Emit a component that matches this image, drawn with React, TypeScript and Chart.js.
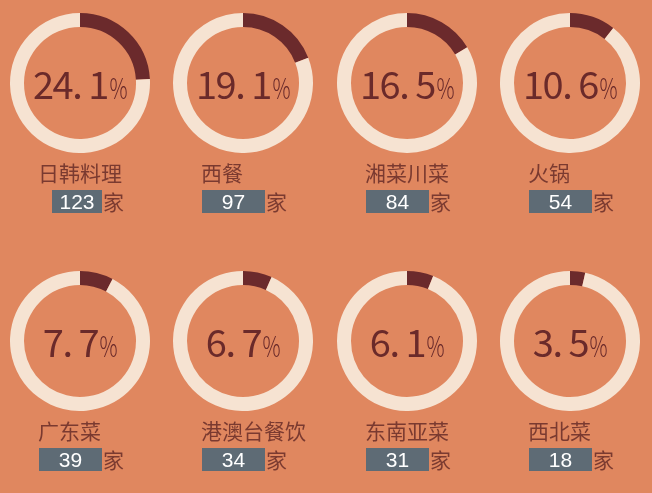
import { useEffect, useRef } from "react";
import { Chart, DoughnutController, ArcElement } from "chart.js";

Chart.register(DoughnutController, ArcElement);

// data
const categories = ["日韩料理", "西餐", "湘菜川菜", "火锅", "广东菜", "港澳台餐饮", "东南亚菜", "西北菜"];
const shares = [24.1, 19.1, 16.5, 10.6, 7.7, 6.7, 6.1, 3.5];
const counts = [123, 97, 84, 54, 39, 34, 31, 18];
const unit = "家";

// colours
const BG = "#E0875F";
const RING = "#F6E3D2";
const ARC = "#6B2A2C";
const NUM = "#6A2A2A";
const LABEL = "#7A3A30";
const BOX = "#5E6B75";

// layout
const colX = [80, 243, 407, 570];
const rowY = [83, 341];
const R = 70;
const CJK = '"Noto Sans CJK SC", "Noto Sans", sans-serif';

type DonutProps = { share: number; cx: number; cy: number };

function Donut({ share, cx, cy }: DonutProps) {
  const ref = useRef<HTMLCanvasElement>(null);

  useEffect(() => {
    if (!ref.current) return;
    const chart = new Chart(ref.current, {
      type: "doughnut",
      data: {
        labels: ["share", "rest"],
        datasets: [{
          data: [share, 100 - share],
          backgroundColor: [ARC, RING],
          borderWidth: 0,
        }],
      },
      options: {
        responsive: false,
        animation: false,
        cutout: "80%",
        events: [],
        layout: { padding: 0 },
        plugins: { legend: { display: false }, tooltip: { enabled: false } },
      },
    });
    return () => chart.destroy();
  }, [share]);

  return (
    <canvas
      ref={ref}
      width={R * 2}
      height={R * 2}
      style={{ position: "absolute", left: cx - R, top: cy - R, width: R * 2, height: R * 2 }}
    />
  );
}

function Card({ i }: { i: number }) {
  const cx = colX[i % 4];
  const cy = rowY[Math.floor(i / 4)];
  const numText = shares[i].toFixed(1).replace(".", ". ");
  const boxLeft = i === 0 ? cx - 28 : cx - 41;
  const boxRight = cx + 22;

  return (
    <>
      <Donut share={shares[i]} cx={cx} cy={cy} />
      <div
        style={{
          position: "absolute", left: cx - R, top: cy - R, width: R * 2, height: R * 2,
          display: "flex", alignItems: "center", justifyContent: "center",
        }}
      >
        <div style={{ whiteSpace: "pre", lineHeight: 1, color: NUM, fontFamily: CJK, fontWeight: 400 }}>
          <span style={{ fontSize: 38, letterSpacing: -1.5 }}>{numText}</span>
          <span
            style={{
              display: "inline-block", fontSize: 28, transform: "scaleX(0.72)",
              marginLeft: -2, marginRight: -4, fontWeight: 300,
            }}
          >
            %
          </span>
        </div>
      </div>
      <div
        style={{
          position: "absolute", left: cx - 42, top: cy + 77, fontSize: 21, lineHeight: "24px",
          color: LABEL, fontFamily: CJK, whiteSpace: "nowrap",
        }}
      >
        {categories[i]}
      </div>
      <div
        style={{
          position: "absolute", left: boxLeft, top: cy + 107, width: boxRight - boxLeft, height: 23,
          background: BOX, color: "#FFFFFF", fontFamily: '"Liberation Sans", Arial, sans-serif',
          fontSize: 21, lineHeight: "23px", textAlign: "center",
        }}
      >
        {counts[i]}
      </div>
      <div
        style={{
          position: "absolute", left: boxRight + 1, top: cy + 105, fontSize: 21, lineHeight: "26px",
          color: LABEL, fontFamily: CJK,
        }}
      >
        {unit}
      </div>
    </>
  );
}

export default function App() {
  useEffect(() => {
    document.body.style.margin = "0";
  }, []);

  return (
    <div style={{ position: "relative", width: 652, height: 493, background: BG, overflow: "hidden" }}>
      {categories.map((_, i) => (
        <Card key={i} i={i} />
      ))}
    </div>
  );
}
